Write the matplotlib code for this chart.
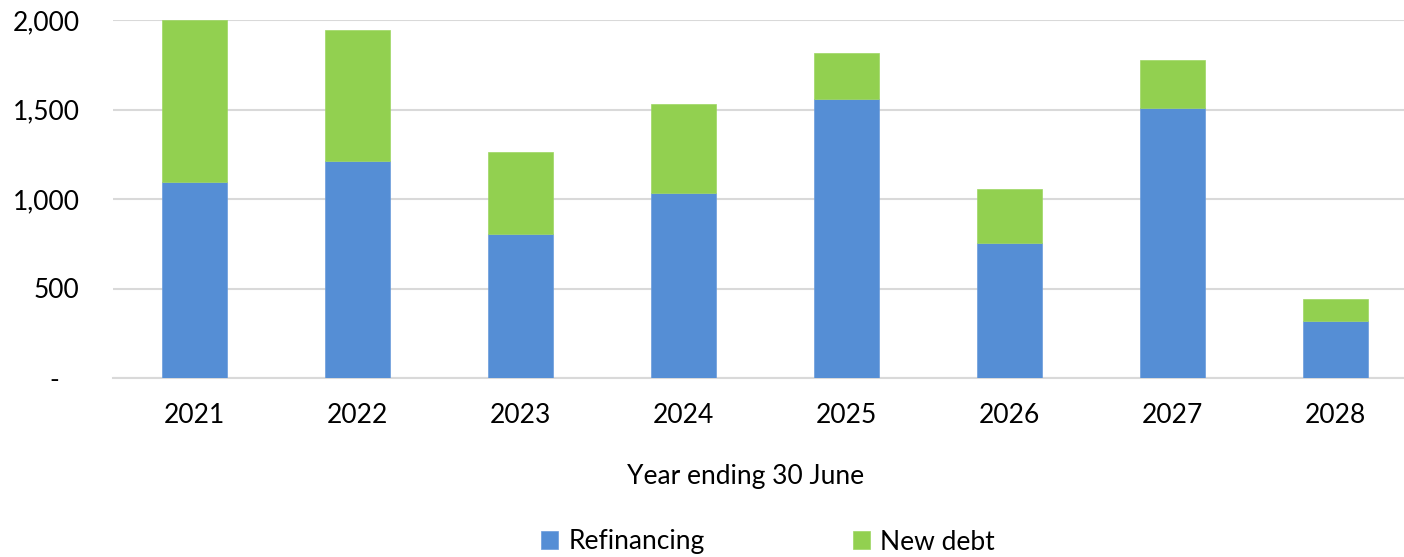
import numpy as np
import matplotlib.pyplot as plt

years = ['2021', '2022', '2023', '2024', '2025', '2026', '2027', '2028']
refinancing = [1095, 1212, 805, 1034, 1559, 754, 1508, 318]
new_debt = [905, 732, 458, 497, 257, 302, 269, 123]

blue = '#558ED5'
green = '#92D050'

plt.rcParams['font.family'] = ['Lato', 'DejaVu Sans']

W, H = 1404, 557
f = plt.figure(figsize=(W / 100, H / 100), dpi=100)
ax = f.add_axes([113 / W, (H - 378) / H, (W - 113) / W, 358 / H])

x = np.arange(len(years))
b1 = ax.bar(x, refinancing, width=0.4, color=blue, edgecolor='#6A9BDB', lw=0.5, zorder=3, label='Refinancing')
b2 = ax.bar(x, new_debt, width=0.4, bottom=refinancing, color=green, edgecolor='#9ED663', lw=0.5,
            zorder=3, label='New debt')

ax.set_xlim(-0.5, -0.5 + (W - 113) / 163.0)
ax.set_ylim(0, 2000)
ax.set_xticks(x)
ax.set_xticklabels(years, fontsize=19)
ax.set_yticks([0, 500, 1000, 1500, 2000])
ax.set_yticklabels(['-   ', '500', '1,000', '1,500', '2,000'], fontsize=19)
ax.tick_params(axis='x', length=0, pad=18)
ax.tick_params(axis='y', length=0, pad=24)

ax.yaxis.grid(True, color='#D9D9D9', lw=1.5, zorder=0)
for s in ['top', 'right', 'left']:
    ax.spines[s].set_visible(False)
ax.spines['bottom'].set_color('#D9D9D9')
ax.spines['bottom'].set_linewidth(1.5)

ax.set_xlabel('Year ending 30 June', fontsize=19)
ax.xaxis.set_label_coords((746 - 113) / (W - 113), -(464 - 378) / 358.0)

f.legend(handles=[b1, b2], labels=['Refinancing', 'New debt'], loc='center',
         bbox_to_anchor=(0.547, 1 - 542 / H), ncol=2, frameon=False, fontsize=19,
         handlelength=0.65, handleheight=0.65, handletextpad=0.4, columnspacing=5.6)

f.savefig('out.png', dpi=100)
